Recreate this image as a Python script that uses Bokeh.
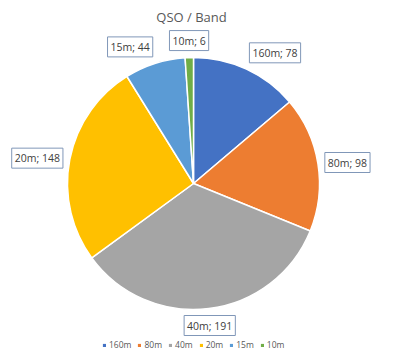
import math
from bokeh.plotting import figure
from bokeh.models import Label, Legend, LegendItem, Range1d
from bokeh.embed import file_html
from bokeh.resources import INLINE

# data
bands = ["160m", "80m", "40m", "20m", "15m", "10m"]
qsos = [78, 98, 191, 148, 44, 6]
colors = ["#4472C4", "#ED7D31", "#A5A5A5", "#FFC000", "#5B9BD5", "#70AD47"]
title_text = "QSO / Band"

W, H = 400, 357
p = figure(width=W, height=H, output_backend="svg", toolbar_location=None,
           x_range=Range1d(0, W), y_range=Range1d(0, H), min_border=0)
p.axis.visible = False
p.grid.visible = False
p.outline_line_color = None

nan = float("nan")
cx, cy, R = 193, H - 183, 126
total = sum(qsos)
start = 0
items = []
for i, (b, q, c) in enumerate(zip(bands, qsos, colors)):
    a0 = math.pi / 2 - 2 * math.pi * start / total
    a1 = math.pi / 2 - 2 * math.pi * (start + q) / total
    p.wedge(x=cx, y=cy, radius=R, start_angle=a0, end_angle=a1, direction="clock",
            fill_color=c, line_color="white", line_width=1.5)
    # legend swatch renderer (undrawn NaN point; only its legend glyph shows)
    sw = p.rect(x=[nan], y=[nan], width=1, height=1, fill_color=c, line_color=None)
    items.append(LegendItem(label=b, renderers=[sw]))
    mid = 2 * math.pi * (start + q / 2) / total
    s, co = math.sin(mid), math.cos(mid)
    lx = cx + (R + 7) * s
    ly = cy + (R + 7) * co
    align = "left" if s > 0.3 else ("right" if s < -0.3 else "center")
    base = "bottom" if co > 0.3 else ("top" if co < -0.3 else "middle")
    p.add_layout(Label(x=lx, y=ly, text=f"{b}; {q}", text_align=align, text_baseline=base,
                       text_font="Open Sans", text_font_size="10.5px", text_color="#404040",
                       border_line_color="#8097B8", border_line_width=1,
                       background_fill_color="white", padding=3))
    start += q

p.add_layout(Label(x=191, y=H - 16, text=title_text, text_align="center", text_baseline="middle",
                   text_font="Open Sans", text_font_size="13px", text_color="#595959"))

legend = Legend(items=items, orientation="horizontal", location=(102, 7),
                glyph_width=4, glyph_height=4, label_text_font="Open Sans",
                label_text_font_size="8.5px", label_text_color="#595959",
                label_standoff=3, label_width=0, label_height=10,
                spacing=6, padding=2, margin=0,
                border_line_color=None, background_fill_alpha=0)
p.add_layout(legend)

open("out.html", "w").write(file_html(p, INLINE))
